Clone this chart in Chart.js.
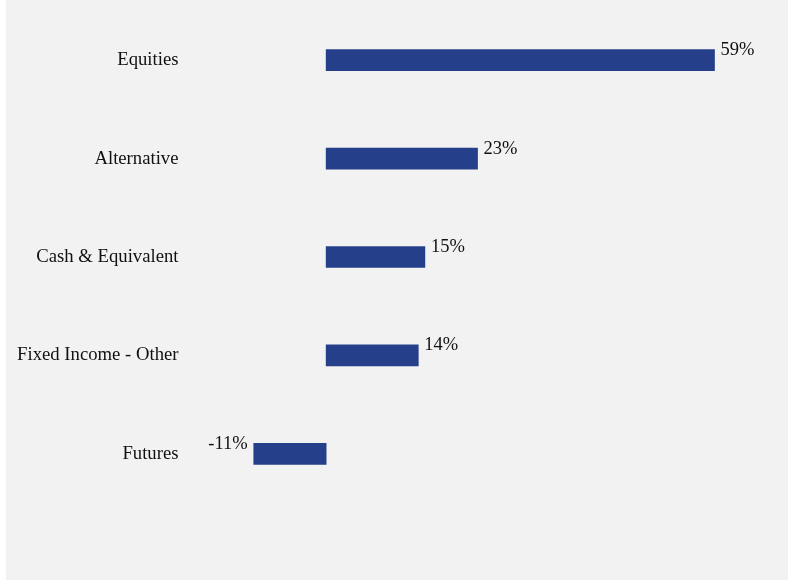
<!DOCTYPE html>
<html>
<head>
<meta charset="utf-8">
<script src="https://cdn.jsdelivr.net/npm/chart.js@4"></script>
<style>
    body { margin: 0; background: #ffffff; }
    #wrap { position: absolute; left: 6px; top: 0; width: 782px; height: 580px; background: #f2f2f2; }
</style>
</head>
<body>
<div id="wrap"><canvas id="allocchart"></canvas></div>
<script>
var categories = ["Equities", "Alternative", "Cash & Equivalent", "Fixed Income - Other", "Futures"]
var weights = [59, 23, 15, 14, -11]
var pctLabels = ["59%", "23%", "15%", "14%", "-11%"]

var barLabels = {
    id: "barLabels",
    afterDatasetsDraw: (chart) => {
        var ctx = chart.ctx
        var meta = chart.getDatasetMeta(0)
        ctx.save()
        ctx.font = "18.5px 'Liberation Serif'"
        ctx.fillStyle = "#111111"
        ctx.textBaseline = "alphabetic"
        meta.data.forEach((bar, i) => {
            if (weights[i] >= 0) {
                ctx.textAlign = "left"
                ctx.fillText(pctLabels[i], bar.x + 6, bar.y - 5)
            } else {
                ctx.textAlign = "right"
                ctx.fillText(pctLabels[i], bar.x - 6, bar.y - 5)
            }
        })
        ctx.restore()
    }
}

var chartAlloc = new Chart(document.getElementById("allocchart"), {
    type: "bar",
    data: {
        labels: categories,
        datasets: [{
            data: weights,
            backgroundColor: "#263f8a",
            borderWidth: 0,
            barThickness: 21
        }]
    },
    options: {
        indexAxis: "y",
        responsive: true,
        maintainAspectRatio: false,
        animation: false,
        layout: { padding: { top: 11, bottom: 77, left: 0, right: 34 } },
        plugins: {
            legend: { display: false },
            tooltip: { enabled: false }
        },
        scales: {
            x: {
                display: false,
                min: -20,
                max: 65
            },
            y: {
                grid: { display: false },
                border: { display: false },
                ticks: {
                    color: "#111111",
                    padding: 8,
                    font: { family: "'Liberation Serif'", size: 18.7 }
                },
                afterFit: (scale) => {
                    scale.width = 188.5
                    scale.paddingTop = 0
                    scale.paddingBottom = 0
                }
            }
        }
    },
    plugins: [barLabels]
})
</script>
</body>
</html>
